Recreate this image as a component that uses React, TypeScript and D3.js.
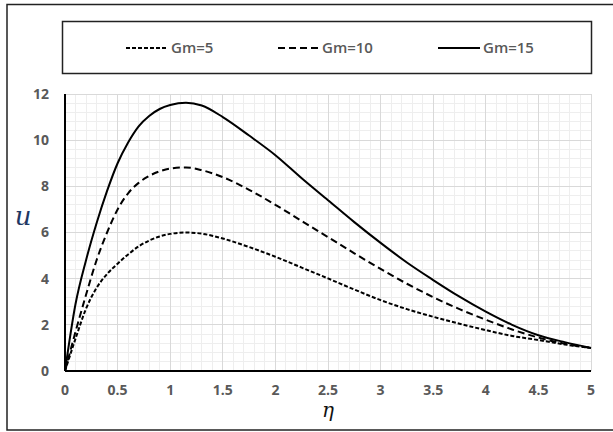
import React from 'react';
import * as d3 from 'd3';

// η grid and velocity profiles
const ETA = [0, 0.1, 0.2, 0.3, 0.4, 0.5, 0.6, 0.7, 0.8, 0.9, 1.0, 1.15, 1.3, 1.5, 1.75, 2.0, 2.25, 2.5, 2.75, 3.0, 3.25, 3.5, 3.75, 4.0, 4.25, 4.5, 4.75, 5.0];
const GM5 = [0, 1.4, 2.7, 3.6, 4.2, 4.65, 5.05, 5.4, 5.65, 5.83, 5.94, 6.0, 5.95, 5.74, 5.37, 4.95, 4.48, 4.01, 3.53, 3.07, 2.68, 2.35, 2.05, 1.77, 1.52, 1.34, 1.15, 1.0];
const GM10 = [0, 1.7, 3.3, 4.8, 6.0, 7.0, 7.7, 8.15, 8.45, 8.65, 8.77, 8.82, 8.7, 8.4, 7.85, 7.2, 6.5, 5.8, 5.1, 4.42, 3.78, 3.2, 2.68, 2.22, 1.8, 1.45, 1.18, 1.0];
const GM15 = [0, 2.9, 4.8, 6.4, 7.8, 9.0, 9.9, 10.6, 11.05, 11.35, 11.52, 11.62, 11.5, 11.0, 10.2, 9.35, 8.35, 7.4, 6.45, 5.55, 4.7, 3.94, 3.22, 2.57, 2.0, 1.55, 1.25, 1.0];
const SERIES_NAMES = ['Gm=5', 'Gm=10', 'Gm=15'];
const X_TICKS = [0, 0.5, 1, 1.5, 2, 2.5, 3, 3.5, 4, 4.5, 5];
const Y_TICKS = [0, 2, 4, 6, 8, 10, 12];

const W = 613;
const H = 432;
const M = { left: 65, right: 591, top: 94, bottom: 371 };
const LABEL_FONT = '"Open Sans", "Liberation Sans", sans-serif';
const GREY = '#595959';

const STYLES = [
  { dash: '4 2', width: 2 },
  { dash: '7 4', width: 2 },
  { dash: null, width: 2 },
];
// legend item positions (line start, line end)
const LEGEND_X = [[126, 168], [278, 319], [438, 480]];

export default function App() {
  const x = d3.scaleLinear().domain([0, 5]).range([M.left, M.right]);
  const y = d3.scaleLinear().domain([0, 12]).range([M.bottom, M.top]);

  const series = [GM5, GM10, GM15].map((vals) => ETA.map((e, i) => [e, vals[i]] as [number, number]));
  const lineGen = d3
    .line<[number, number]>()
    .x((d) => x(d[0]))
    .y((d) => y(d[1]))
    .curve(d3.curveMonotoneX);

  const minorX = d3.range(0, 51).map((i) => i / 10).filter((v) => Math.abs(v * 2 - Math.round(v * 2)) > 1e-6);
  const minorY = d3.range(0, 31).map((i) => i * 0.4).filter((v) => Math.abs(v / 2 - Math.round(v / 2)) > 1e-6);

  return (
    <svg
      width={W}
      height={H}
      style={{ position: 'absolute', left: 0, top: 0, background: '#fff' }}
      fontFamily={LABEL_FONT}
    >
      <rect x={7} y={4.5} width={620} height={425.5} fill="#fff" stroke="#222" strokeWidth={1.5} />

      {/* legend */}
      <rect x={62.5} y={21.5} width={529} height={52} fill="#fff" stroke="#222" strokeWidth={1.5} />
      {SERIES_NAMES.map((name, i) => (
        <g key={name}>
          <line
            x1={LEGEND_X[i][0]}
            x2={LEGEND_X[i][1]}
            y1={48}
            y2={48}
            stroke="#000"
            strokeWidth={STYLES[i].width}
            strokeDasharray={STYLES[i].dash ?? undefined}
          />
          <text x={LEGEND_X[i][1] + 3} y={48} dy="0.35em" fontSize={15} fontWeight={600} fill={GREY}>
            {name}
          </text>
        </g>
      ))}

      {/* grid */}
      <g shapeRendering="crispEdges">
        {minorX.map((v) => (
          <line key={'mx' + v} x1={x(v)} x2={x(v)} y1={M.top} y2={M.bottom} stroke="#eeeeee" />
        ))}
        {minorY.map((v) => (
          <line key={'my' + v} x1={M.left} x2={M.right} y1={y(v)} y2={y(v)} stroke="#eeeeee" />
        ))}
        {X_TICKS.map((v) => (
          <line key={'gx' + v} x1={x(v)} x2={x(v)} y1={M.top} y2={M.bottom} stroke="#d9d9d9" />
        ))}
        {Y_TICKS.map((v) => (
          <line key={'gy' + v} x1={M.left} x2={M.right} y1={y(v)} y2={y(v)} stroke="#d9d9d9" />
        ))}
      </g>

      {/* curves */}
      {series.map((s, i) => (
        <path
          key={SERIES_NAMES[i]}
          d={lineGen(s) ?? undefined}
          fill="none"
          stroke="#000"
          strokeWidth={STYLES[i].width}
          strokeDasharray={STYLES[i].dash ?? undefined}
        />
      ))}

      {/* axes */}
      <line x1={M.left} x2={M.left} y1={M.top} y2={M.bottom} stroke="#000" strokeWidth={2} />
      <line x1={M.left} x2={M.right} y1={M.bottom} y2={M.bottom} stroke="#000" strokeWidth={2} />

      {Y_TICKS.map((v) => (
        <text key={'yl' + v} x={49} y={y(v)} dy="0.35em" textAnchor="end" fontSize={14} fontWeight={700} fill={GREY}>
          {v}
        </text>
      ))}
      {X_TICKS.map((v) => (
        <text key={'xl' + v} x={x(v)} y={390} dy="0.35em" textAnchor="middle" fontSize={14} fontWeight={700} fill={GREY}>
          {v}
        </text>
      ))}

      <text x={23} y={216} dy="0.35em" textAnchor="middle" fontSize={26} fontStyle="italic" fontFamily='"DejaVu Serif", serif' fill="#1f3864">
        u
      </text>
      <text x={328} y={410} dy="0.35em" textAnchor="middle" fontSize={20} fontStyle="italic" fontFamily='"DejaVu Serif", serif' fill="#111">
        η
      </text>
    </svg>
  );
}
